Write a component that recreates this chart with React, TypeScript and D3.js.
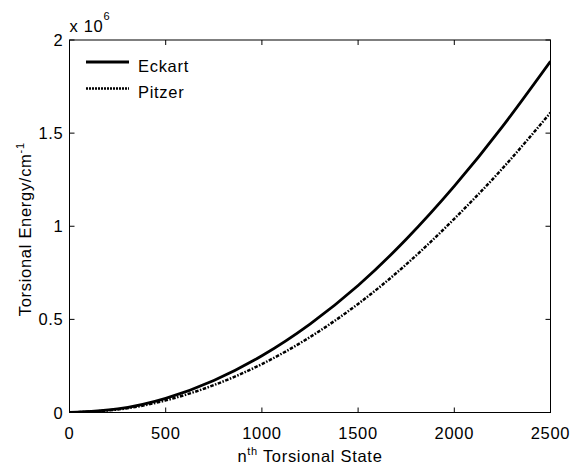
import React, { useEffect, useRef } from 'react';
import * as d3 from 'd3';

// torsional state index
const states = [0, 250, 500, 750, 1000, 1250, 1500, 1750, 2000, 2250, 2500];
// energies in units of 1e6 cm^-1
const eckart = [0, 0.019, 0.076, 0.172, 0.305, 0.475, 0.682, 0.93, 1.215, 1.535, 1.886];
const pitzer = [0, 0.016, 0.065, 0.147, 0.26, 0.405, 0.583, 0.795, 1.04, 1.31, 1.61];
const xTicks = [0, 500, 1000, 1500, 2000, 2500];
const yTicks = [0, 0.5, 1, 1.5, 2];

const App = () => {
  const ref = useRef<SVGSVGElement>(null);
  const width = 571;
  const height = 466;
  const margin = { top: 40, right: 20.5, bottom: 53.5, left: 69.5 };

  useEffect(() => {
    const svg = d3.select(ref.current);
    svg.selectAll('*').remove();
    const font = 'Liberation Sans, Arial, Helvetica, sans-serif';
    const fs = '16.5px';
    const ls = '0.7px';

    const x = d3
      .scaleLinear()
      .domain([0, 2500])
      .range([margin.left, width - margin.right]);
    const y = d3
      .scaleLinear()
      .domain([0, 2])
      .range([height - margin.bottom, margin.top]);

    svg
      .append('clipPath')
      .attr('id', 'plot-clip')
      .append('rect')
      .attr('x', x(0))
      .attr('y', y(2))
      .attr('width', x(2500) - x(0))
      .attr('height', y(0) - y(2));

    const line = d3
      .line<number>()
      .x((d, i) => x(states[i]))
      .y((d) => y(d))
      .curve(d3.curveNatural);

    const plot = svg.append('g').attr('clip-path', 'url(#plot-clip)');

    plot
      .append('path')
      .datum(pitzer)
      .attr('fill', 'none')
      .attr('stroke', '#000')
      .attr('stroke-width', 2.5)
      .attr('stroke-dasharray', '3.5,1.5,1.5,1.5')
      .attr('d', line);

    plot
      .append('path')
      .datum(eckart)
      .attr('fill', 'none')
      .attr('stroke', '#000')
      .attr('stroke-width', 2.8)
      .attr('d', line);

    // axes box
    svg
      .append('rect')
      .attr('x', x(0))
      .attr('y', y(2))
      .attr('width', x(2500) - x(0))
      .attr('height', y(0) - y(2))
      .attr('fill', 'none')
      .attr('stroke', '#000')
      .attr('stroke-width', 1);

    const tickLen = 5;
    xTicks.forEach((t) => {
      svg
        .append('line')
        .attr('x1', x(t))
        .attr('x2', x(t))
        .attr('y1', y(0))
        .attr('y2', y(0) - tickLen)
        .attr('stroke', '#000');
      svg
        .append('line')
        .attr('x1', x(t))
        .attr('x2', x(t))
        .attr('y1', y(2))
        .attr('y2', y(2) + tickLen)
        .attr('stroke', '#000');
      svg
        .append('text')
        .attr('x', x(t))
        .attr('y', y(0) + 26)
        .attr('text-anchor', 'middle')
        .style('font-family', font)
        .style('font-size', fs)
        .style('letter-spacing', ls)
        .text(t);
    });

    yTicks.forEach((t) => {
      svg
        .append('line')
        .attr('x1', x(0))
        .attr('x2', x(0) + tickLen)
        .attr('y1', y(t))
        .attr('y2', y(t))
        .attr('stroke', '#000');
      svg
        .append('line')
        .attr('x1', x(2500))
        .attr('x2', x(2500) - tickLen)
        .attr('y1', y(t))
        .attr('y2', y(t))
        .attr('stroke', '#000');
      svg
        .append('text')
        .attr('x', x(0) - 6)
        .attr('y', y(t) + 6)
        .attr('text-anchor', 'end')
        .style('font-family', font)
        .style('font-size', fs)
        .style('letter-spacing', ls)
        .text(t);
    });

    // exponent label
    const expo = svg
      .append('text')
      .attr('x', x(0))
      .attr('y', 32)
      .style('font-family', font)
      .style('font-size', fs)
      .style('letter-spacing', ls);
    expo.append('tspan').text('x 10');
    expo
      .append('tspan')
      .attr('dy', -12)
      .style('font-size', '11px')
      .text('6');

    // x label
    const xl = svg
      .append('text')
      .attr('x', (x(0) + x(2500)) / 2)
      .attr('y', 462)
      .attr('text-anchor', 'middle')
      .style('font-family', font)
      .style('font-size', fs)
      .style('letter-spacing', ls);
    xl.append('tspan').text('n');
    xl.append('tspan').attr('dy', -7).style('font-size', '11px').text('th');
    xl.append('tspan').attr('dy', 7).text(' Torsional State');

    // y label
    const yl = svg
      .append('text')
      .attr('transform', `translate(31, ${(y(0) + y(2)) / 2 + 3}) rotate(-90)`)
      .attr('text-anchor', 'middle')
      .style('font-family', font)
      .style('font-size', fs)
      .style('letter-spacing', ls);
    yl.append('tspan').text('Torsional Energy/cm');
    yl.append('tspan').attr('dy', -7).style('font-size', '11px').text('-1');

    // legend
    const legend = svg.append('g');
    const items = [
      { name: 'Eckart', dash: null, w: 2.8 },
      { name: 'Pitzer', dash: '2,1', w: 2.5 },
    ];
    items.forEach((it, i) => {
      const ly = 62 + i * 26.5;
      legend
        .append('line')
        .attr('x1', 86)
        .attr('x2', 129)
        .attr('y1', ly)
        .attr('y2', ly)
        .attr('stroke', '#000')
        .attr('stroke-width', it.w)
        .attr('stroke-dasharray', it.dash);
      legend
        .append('text')
        .attr('x', 138)
        .attr('y', ly + 9.5)
        .style('font-family', font)
        .style('font-size', fs)
        .style('letter-spacing', ls)
        .text(it.name);
    });
  }, []);

  return (
    <svg
      ref={ref}
      width={width}
      height={height}
      style={{ position: 'absolute', left: 0, top: 0, background: '#fff' }}
    ></svg>
  );
};

export default App;
